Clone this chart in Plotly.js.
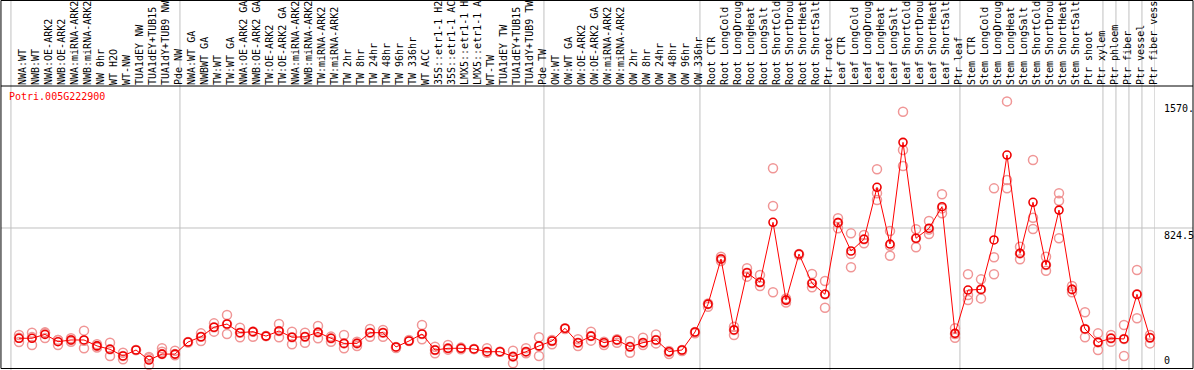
<!DOCTYPE html>
<html>
<head>
<meta charset="utf-8">
<script src="https://cdn.plot.ly/plotly-3.0.1.min.js"></script>
<style>html,body{margin:0;padding:0;background:#fff;}#chart{width:1194px;height:370px;}</style>
</head>
<body>
<div id="chart"></div>
<script>
const geneName = "Potri.005G222900";
const labels = [
"NWA:WT","NWB:WT","NWA:OE-ARK2","NWB:OE-ARK2","NWA:miRNA-ARK2","NWB:miRNA-ARK2","NW 0hr","WT H2O","WT-NW","TUA1dEY NW","TUA1dEY+TUB15","TUA1dY+TUB9 NW","Pde NW",
"NWA:WT GA","NWBWT GA","TW:WT","TW:WT GA","NWA:OE-ARK2 GA","NWB:OE-ARK2 GA","TW:OE-ARK2","TW:OE-ARK2 GA","NWA:miRNA-ARK2 GA","NWB:miRNA-ARK2 GA","TW:miRNA-ARK2 GA","TW:miRNA-ARK2","TW 2hr","TW 8hr","TW 24hr","TW 48hr","TW 96hr","TW 336hr","WT ACC","35S::etr1-1 H2O","35S::etr1-1 ACC","LMX5::etr1-1 H2O","LMX5::etr1-1 ACC","WT-TW","TUA1dEY TW","TUA1dEY+TUB15","TUA1dY+TUB9 TW","Pde TW",
"OW:WT","OW:WT GA","OW:OE-ARK2","OW:OE-ARK2 GA","OW:miRNA-ARK2","OW:miRNA-ARK2 GA","OW 2hr","OW 8hr","OW 24hr","OW 48hr","OW 96hr","OW 336hr",
"Root CTR","Root LongCold","Root LongDrought","Root LongHeat","Root LongSalt","Root ShortCold","Root ShortDrought","Root ShortHeat","Root ShortSalt","Ptr root",
"Leaf CTR","Leaf LongCold","Leaf LongDrought","Leaf LongHeat","Leaf LongSalt","Leaf ShortCold","Leaf ShortDrought","Leaf ShortHeat","Leaf ShortSalt","Ptr leaf",
"Stem CTR","Stem LongCold","Stem LongDrought","Stem LongHeat","Stem LongSalt","Stem ShortCold","Stem ShortDrought","Stem ShortHeat","Stem ShortSalt","Ptr shoot","Ptr xylem",
"Ptr phloem","Ptr fiber","Ptr vessel","Ptr fiber vessel"
];
const groupStarts = [0,13,41,53,63,73,84,85,86,87,88];
const meanValues = [
175,175,198,155,165,165,130,110,71,106,
47,82,82,153,184,240,259,208,214,188,
218,181,184,210,175,145,145,208,208,124,
159,200,106,116,116,112,96,96,67,96,
130,159,234,149,188,149,165,125,149,165,
96,106,212,376,642,224,561,505,858,400,
671,499,434,856,689,758,1064,730,1329,764,
823,950,204,459,463,754,1254,675,976,607,
930,463,230,151,175,171,434,178
];
const rep1 = [
194,208,210,135,175,220,130,149,51,106,
18,116,102,153,204,263,312,237,214,188,
259,214,208,247,155,194,130,230,224,124,
159,253,125,135,116,112,116,96,102,116,
181,140,234,169,214,135,149,159,178,198,
82,106,212,376,655,243,587,548,1176,400,
671,554,512,882,793,783,1170,807,1509,817,
866,1023,234,552,522,1058,1570,714,1225,655,
1029,483,328,204,194,253,577,194
];
const rep2 = [
153,135,177,165,155,116,120,71,71,106,
65,96,82,150,159,214,200,181,184,188,
181,140,149,175,175,116,145,184,184,118,
165,169,87,116,110,112,96,96,28,87,
71,159,230,130,161,149,165,90,135,145,
96,100,205,361,642,194,538,483,954,385,
665,475,355,823,593,734,1029,661,1284,711,
789,911,178,400,410,652,1107,640,885,573,
985,446,181,106,155,71,293,145
];
const rep3 = [
178,182,206,165,165,160,140,110,90,null,
58,82,75,null,184,240,259,208,214,null,
218,181,184,210,185,145,155,208,208,null,
null,200,106,108,120,null,90,null,67,96,
130,165,null,149,188,155,170,125,149,165,
100,null,null,380,630,224,561,505,446,410,
null,499,434,856,671,758,989,720,1190,764,
815,940,200,430,463,552,1058,675,819,607,
764,463,230,151,175,171,434,178
];
const yTickVals = [0, 824.5, 1570];
const yTickText = ["0", "824.5", "1570."];

const idx = labels.map((_, i) => i);
const rx = [], ry = [];
[rep1, rep2, rep3].forEach(arr => arr.forEach((v, i) => { if (v !== null) { rx.push(i); ry.push(v); } }));

const mono = "DejaVu Sans Mono, monospace";
const traces = [
  {x: rx, y: ry, type: "scatter", mode: "markers", cliponaxis: false, hoverinfo: "skip",
   marker: {symbol: "circle-open", size: 9, color: "rgb(240,150,150)", line: {width: 1.5, color: "rgb(240,150,150)"}}},
  {x: idx, y: meanValues, type: "scatter", mode: "lines+markers", cliponaxis: false,
   line: {color: "#ff0000", width: 1},
   marker: {symbol: "circle-open", size: 8, color: "#ee0000", line: {width: 1.6, color: "#ee0000"}}}
];

const X0 = -0.6923, X1 = 87.385, YTOP = 1660.7;
const shapes = [];
groupStarts.forEach(k => shapes.push({type: "line", xref: "x", yref: "paper", x0: k - 0.62, x1: k - 0.62, y0: -0.01, y1: 1.31, line: {color: "#c0c0c0", width: 1}, layer: "below"}));
shapes.push({type: "line", xref: "paper", yref: "y", x0: -0.0079, x1: 1.0332, y0: 824.5, y1: 824.5, line: {color: "#c0c0c0", width: 1}, layer: "below"});
shapes.push({type: "line", xref: "paper", yref: "paper", x0: -0.0079, x1: 1.0332, y0: 1, y1: 1, line: {color: "#000", width: 1}});
shapes.push({type: "rect", xref: "paper", yref: "paper", x0: -0.0079, x1: 1.0332, y0: -0.0018, y1: 1.3032, line: {color: "#000", width: 1}});

const annotations = [
  {xref: "paper", yref: "paper", x: 0, y: 1, xanchor: "left", yanchor: "top", xshift: -3, yshift: -3, showarrow: false,
   text: geneName, font: {family: mono, size: 10, color: "#ff0000"}}
];
yTickVals.forEach((v, j) => annotations.push({
  xref: "paper", yref: "y", x: 1.0062, y: v, xanchor: "left", yanchor: v === 0 ? "bottom" : "top",
  showarrow: false, text: yTickText[j], font: {family: mono, size: 10, color: "#000"}
}));

const layout = {
  width: 1194, height: 370,
  margin: {l: 10, r: 39, t: 86, b: 2, pad: 0},
  paper_bgcolor: "#fff", plot_bgcolor: "#fff",
  showlegend: false,
  xaxis: {range: [X0, X1], side: "top", tickmode: "array", tickvals: idx.map(i => i + 0.3), ticktext: labels,
          tickangle: -90, ticks: "", showgrid: false, zeroline: false, showline: false,
          tickfont: {family: mono, size: 10, color: "#000"}, fixedrange: true},
  yaxis: {range: [0, YTOP], showticklabels: false, ticks: "", showgrid: false, zeroline: false, showline: false, fixedrange: true},
  shapes: shapes,
  annotations: annotations
};
Plotly.newPlot("chart", traces, layout, {displayModeBar: false, staticPlot: true});
</script>
</body>
</html>
